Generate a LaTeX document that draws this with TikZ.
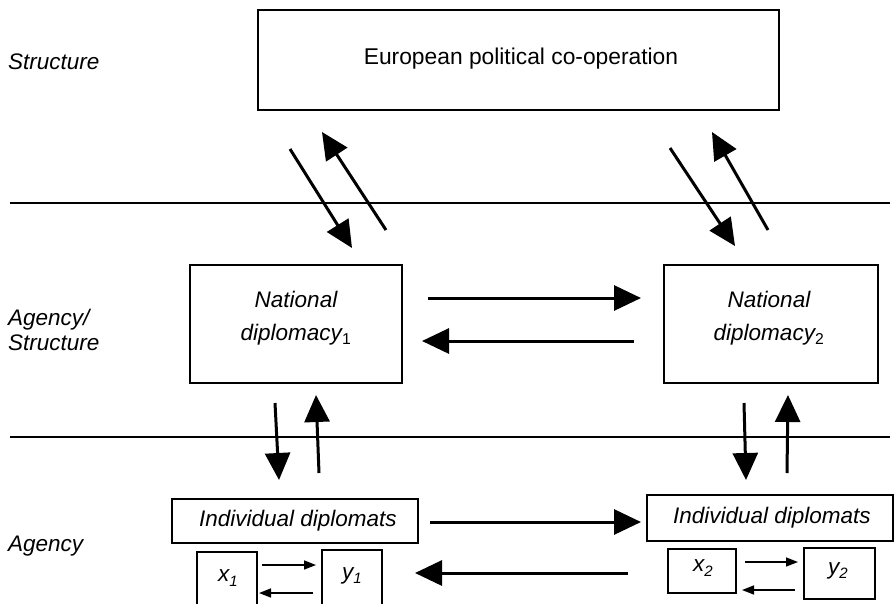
\documentclass[tikz,border=0pt]{standalone}
\usepackage{fontspec}
\setmainfont{Liberation Sans}
\usetikzlibrary{arrows.meta}
\begin{document}
\begin{tikzpicture}[x=1pt,y=-1pt,
  box/.style={draw,line width=1.4pt,inner sep=0pt},
  lbl/.style={anchor=west,font=\fontsize{22.5}{25}\selectfont\itshape,align=left,inner sep=0pt},
  rule/.style={line width=1.4pt},
  bigarr/.style={line width=3pt,-{Triangle[length=27pt,width=25pt]}},
  smallarr/.style={line width=1.5pt,-{Triangle[length=12pt,width=9pt]}},
  txt/.style={font=\fontsize{22.5}{33}\selectfont\itshape,align=center},
  sub/.style={font=\fontsize{22.5}{33}\selectfont\itshape,inner sep=0pt}]
\useasboundingbox (0,0) rectangle (895,603);
\clip (0,0) rectangle (895,603);
% row labels
\node[lbl] (lS) at (8,62) {Structure};
\node[lbl] (lAS) at (8,330) {Agency/\\Structure};
\node[lbl] (lA) at (8,546) {Agency};
% separator lines
\coordinate (r1a) at (10,203); \coordinate (r1b) at (890,203);
\coordinate (r2a) at (10,437); \coordinate (r2b) at (890,437);
\draw[rule] (r1a) -- (r1b);
\draw[rule] (r2a) -- (r2b);
% boxes
\node[box,minimum width=521pt,minimum height=100pt] (epc) at (518.5,60) {};
\node[font=\fontsize{22.8}{25}\selectfont] (epct) at (521,59) {European political co-operation};
\node[box,minimum width=212pt,minimum height=118pt] (nd1) at (296,324) {};
\node[txt] (nd1t) at (296,318) {National\\diplomacy\textsubscript{\upshape 1}};
\node[box,minimum width=214pt,minimum height=118pt] (nd2) at (771,324) {};
\node[txt] (nd2t) at (769,318) {National\\diplomacy\textsubscript{\upshape 2}};
\node[box,minimum width=246pt,minimum height=44pt] (id1) at (295,521) {};
\node[txt] (id1t) at (298,521) {Individual diplomats};
\node[box,minimum width=246pt,minimum height=46pt] (id2) at (770,518) {};
\node[txt] (id2t) at (772,518) {Individual diplomats};
\node[box,minimum width=60pt,minimum height=60pt] (x1) at (227,582) {};
\node[sub] (x1t) at (228,578) {x\raisebox{-0.35ex}{\fontsize{15}{15}\selectfont 1}};
\node[box,minimum width=60pt,minimum height=60pt] (y1) at (352,580) {};
\node[sub] (y1t) at (352,576) {y\raisebox{-0.35ex}{\fontsize{15}{15}\selectfont 1}};
\node[box,minimum width=68pt,minimum height=44pt] (x2) at (702,571) {};
\node[sub] (x2t) at (703,568) {x\raisebox{-0.35ex}{\fontsize{15}{15}\selectfont 2}};
\node[box,minimum width=71pt,minimum height=51pt] (y2) at (839.5,573.5) {};
\node[sub] (y2t) at (838,571) {y\raisebox{-0.35ex}{\fontsize{15}{15}\selectfont 2}};
% diagonal arrows (structure <-> national)
\coordinate (d1a) at (290,149); \coordinate (d1b) at (352,248);
\coordinate (u1a) at (386,230); \coordinate (u1b) at (322,132);
\coordinate (d2a) at (670,148); \coordinate (d2b) at (735,246);
\coordinate (u2a) at (768,230); \coordinate (u2b) at (712,132);
\draw[bigarr] (d1a) -- (d1b);
\draw[bigarr] (u1a) -- (u1b);
\draw[bigarr] (d2a) -- (d2b);
\draw[bigarr] (u2a) -- (u2b);
% horizontal arrows between national diplomacies
\coordinate (h1a) at (428,298); \coordinate (h1b) at (641,298);
\coordinate (h2a) at (634,341); \coordinate (h2b) at (422,341);
\draw[bigarr] (h1a) -- (h1b);
\draw[bigarr] (h2a) -- (h2b);
% vertical arrows
\coordinate (v1a) at (275,403); \coordinate (v1b) at (279,480);
\coordinate (w1a) at (319,473); \coordinate (w1b) at (316,395);
\coordinate (v2a) at (744,403); \coordinate (v2b) at (746,480);
\coordinate (w2a) at (787,473); \coordinate (w2b) at (788,395);
\draw[bigarr] (v1a) -- (v1b);
\draw[bigarr] (w1a) -- (w1b);
\draw[bigarr] (v2a) -- (v2b);
\draw[bigarr] (w2a) -- (w2b);
% bottom arrows
\coordinate (b1a) at (430,522); \coordinate (b1b) at (641,522);
\coordinate (b2a) at (628,573); \coordinate (b2b) at (415,573);
\draw[bigarr] (b1a) -- (b1b);
\draw[bigarr] (b2a) -- (b2b);
% small arrows
\coordinate (s1a) at (262,565); \coordinate (s1b) at (316,565);
\coordinate (s2a) at (313,593); \coordinate (s2b) at (259,593);
\coordinate (s3a) at (745,562); \coordinate (s3b) at (798,562);
\coordinate (s4a) at (795,590); \coordinate (s4b) at (742,590);
\draw[smallarr] (s1a) -- (s1b);
\draw[smallarr] (s2a) -- (s2b);
\draw[smallarr] (s3a) -- (s3b);
\draw[smallarr] (s4a) -- (s4b);
\end{tikzpicture}
\end{document}
